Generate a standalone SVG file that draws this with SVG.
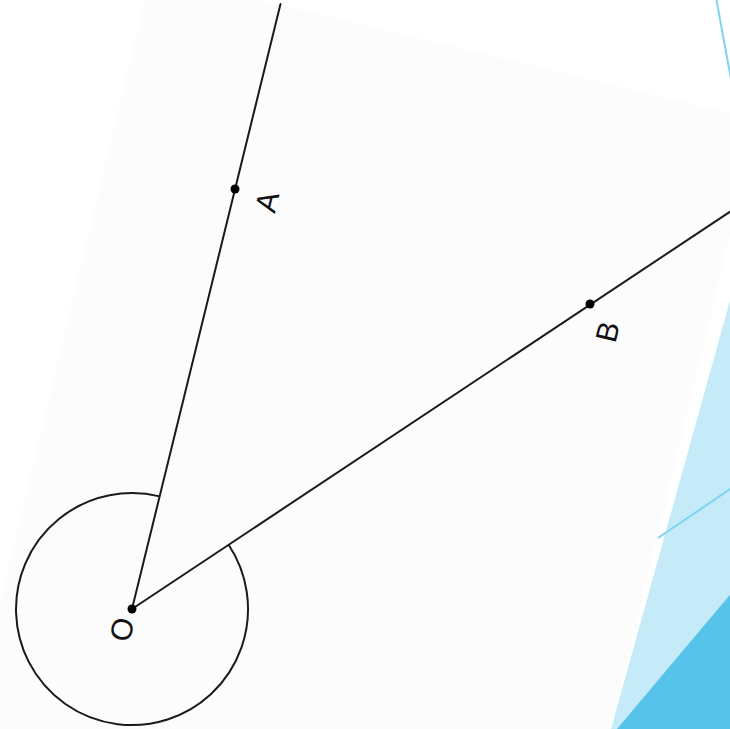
<svg xmlns="http://www.w3.org/2000/svg" width="730" height="729" viewBox="0 0 730 729">
  <style>
    .ray { stroke: #1a1a1a; stroke-width: 2; fill: none; stroke-linecap: round; }
    .arc { stroke: #1a1a1a; stroke-width: 2; fill: none; }
    .dot { fill: #000; }
    .lbl { font-family: "Liberation Sans", Arial, sans-serif; font-size: 30px; fill: #111; text-anchor: middle; }
    .accent { stroke: #7dd3f0; stroke-width: 2; fill: none; }
  </style>
  <rect x="0" y="0" width="730" height="729" fill="#ffffff"/>
  <g id="background">
    <polygon points="151,-26 758,120 596,790 -45,790" fill="#fcfcfc"/>
    <polygon points="732,293 740,293 740,740 608,740" fill="#c5eaf8"/>
    <polygon points="740,583 740,740 607.7,740" fill="#55c3ea"/>
    <line class="accent" x1="715" y1="-8" x2="733" y2="90"/>
    <line class="accent" x1="658" y1="538" x2="742" y2="481"/>
  </g>
  <g id="connectors">
    <line class="ray" x1="132" y1="609" x2="280.5" y2="4"/>
    <line class="ray" x1="132" y1="609" x2="732" y2="210.4"/>
    <path class="arc" d="M159.7,496.4 A116,116 0 1 0 228.6,544.8"/>
  </g>
  <g id="node-O">
    <circle class="dot" cx="132" cy="609" r="4.5"/>
    <text class="lbl" transform="translate(121.7,629.3) rotate(-76.3)" x="0" y="10.7">O</text>
  </g>
  <g id="node-A">
    <circle class="dot" cx="235" cy="189" r="4.5"/>
    <text class="lbl" transform="translate(266.7,201.7) rotate(-76.3)" x="0" y="10.7">A</text>
  </g>
  <g id="node-B">
    <circle class="dot" cx="590" cy="304" r="4.5"/>
    <text class="lbl" transform="translate(607.3,331.7) rotate(-76.3)" x="0" y="10.7">B</text>
  </g>
</svg>
